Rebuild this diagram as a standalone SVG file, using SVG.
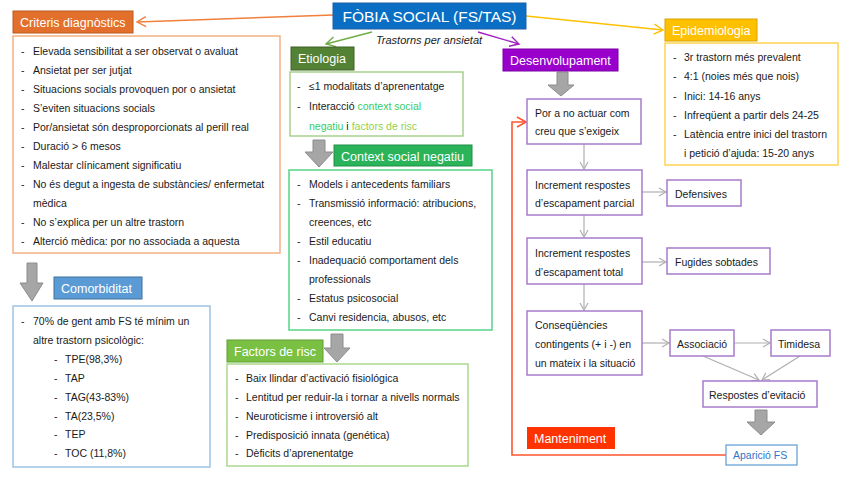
<svg xmlns="http://www.w3.org/2000/svg" width="848" height="477" viewBox="0 0 848 477">
<defs>
<style>
text{font-family:"Liberation Sans",Arial,sans-serif;fill:#1a1a1a}
.t{font-size:10.5px}
.h{font-size:12.5px;fill:#fff}
.box{fill:#fff;stroke-width:1.5}
.pb{fill:#fff;stroke:#A57CCB;stroke-width:1.5}
.big{fill:#A6A6A6;stroke:#8C8C8C;stroke-width:1}
.thin{fill:none;stroke:#AFAFAF;stroke-width:1.2;marker-end:url(#ga)}
</style>
<marker id="ga" markerWidth="10" markerHeight="10" refX="8" refY="5" orient="auto" markerUnits="userSpaceOnUse"><path d="M1,1 L8,5 L1,9" fill="none" stroke="#AFAFAF" stroke-width="1.2"/></marker>
<marker id="oa" markerWidth="12" markerHeight="12" refX="10" refY="6" orient="auto" markerUnits="userSpaceOnUse"><path d="M1,1 L10,6 L1,11" fill="none" stroke="#F0803C" stroke-width="1.4"/></marker>
<marker id="gr" markerWidth="12" markerHeight="12" refX="10" refY="6" orient="auto" markerUnits="userSpaceOnUse"><path d="M1,1 L10,6 L1,11" fill="none" stroke="#70AD47" stroke-width="1.4"/></marker>
<marker id="pu" markerWidth="12" markerHeight="12" refX="10" refY="6" orient="auto" markerUnits="userSpaceOnUse"><path d="M1,1 L10,6 L1,11" fill="none" stroke="#A020C0" stroke-width="1.4"/></marker>
<marker id="ye" markerWidth="12" markerHeight="12" refX="10" refY="6" orient="auto" markerUnits="userSpaceOnUse"><path d="M1,1 L10,6 L1,11" fill="none" stroke="#FFC000" stroke-width="1.4"/></marker>
<marker id="re" markerWidth="12" markerHeight="12" refX="10" refY="6" orient="auto" markerUnits="userSpaceOnUse"><path d="M1,1 L10,6 L1,11" fill="none" stroke="#FF5530" stroke-width="1.6"/></marker>
</defs>
<rect width="848" height="477" fill="#fff"/>

<g id="connectors">
<line x1="333" y1="15" x2="137" y2="22" stroke="#F0803C" stroke-width="1.4" marker-end="url(#oa)"/>
<line x1="372" y1="32" x2="326" y2="44" stroke="#70AD47" stroke-width="1.4" marker-end="url(#gr)"/>
<line x1="478" y1="32" x2="519" y2="44" stroke="#A020C0" stroke-width="1.4" marker-end="url(#pu)"/>
<line x1="526" y1="16" x2="663" y2="30" stroke="#FFC000" stroke-width="1.4" marker-end="url(#ye)"/>
<polyline points="726,455 512,455 512,122 526,122" fill="none" stroke="#FF5530" stroke-width="1.6" marker-end="url(#re)"/>
<line class="thin" x1="584" y1="144" x2="584" y2="169"/>
<line class="thin" x1="584" y1="215" x2="584" y2="237"/>
<line class="thin" x1="584" y1="284" x2="584" y2="310"/>
<line class="thin" x1="642" y1="192" x2="666" y2="192"/>
<line class="thin" x1="642" y1="262" x2="666" y2="262"/>
<line class="thin" x1="642" y1="343" x2="669" y2="343"/>
<line class="thin" x1="734" y1="343" x2="770" y2="343"/>
<line class="thin" x1="703" y1="356" x2="759" y2="380"/>
<line class="thin" x1="800" y1="356" x2="762" y2="380"/>
<polygon class="big" points="27,263 37,263 37,283 43,283 32,301 20,283 27,283"/>
<polygon class="big" points="313,140 325,140 325,152 333,152 319,167 305,152 313,152"/>
<polygon class="big" points="331,334 343,334 343,348 350,348 337,362 324,348 331,348"/>
<polygon class="big" points="557,72 568,72 568,85 574,85 561,96 548,85 557,85"/>
<polygon class="big" points="755,410 767,410 767,422 775,422 761,435 747,422 755,422"/>
</g>

<g id="title">
<rect x="333" y="3" width="193" height="26" fill="#0A6FC4" stroke="#1F5FA8"/>
<text x="429.5" y="22" text-anchor="middle" style="font-size:15.5px;fill:#fff">FÒBIA SOCIAL (FS/TAS)</text>
<text x="429" y="44" text-anchor="middle" style="font-size:11px;font-style:italic">Trastorns per ansietat</text>
</g>

<g id="criteris">
<rect x="13" y="11" width="120" height="22" fill="#E2702C" stroke="#B85A1F"/>
<text class="h" x="20" y="27">Criteris diagnòstics</text>
<rect class="box" x="13" y="36" width="267" height="217" stroke="#F4B183"/>
<g class="t">
<text x="21" y="54.5">-</text><text x="33" y="54.5">Elevada sensibilitat a ser observat o avaluat</text>
<text x="21" y="73.5">-</text><text x="33" y="73.5">Ansietat per ser jutjat</text>
<text x="21" y="92.5">-</text><text x="33" y="92.5">Situacions socials provoquen por o ansietat</text>
<text x="21" y="111.5">-</text><text x="33" y="111.5">S’eviten situacions socials</text>
<text x="21" y="130.5">-</text><text x="33" y="130.5">Por/ansietat són desproporcionats al perill real</text>
<text x="21" y="149.5">-</text><text x="33" y="149.5">Duració &gt; 6 mesos</text>
<text x="21" y="168.5">-</text><text x="33" y="168.5">Malestar clínicament significatiu</text>
<text x="21" y="187.5">-</text><text x="33" y="187.5">No és degut a ingesta de substàncies/ enfermetat</text>
<text x="33" y="206.5">mèdica</text>
<text x="21" y="225.5">-</text><text x="33" y="225.5">No s’explica per un altre trastorn</text>
<text x="21" y="244.5">-</text><text x="33" y="244.5">Alterció mèdica: por no associada a aquesta</text>
</g>
</g>

<g id="comorbiditat">
<rect x="54" y="277" width="88" height="22" fill="#5B9BD5" stroke="#41719C"/>
<text class="h" x="61" y="293">Comorbiditat</text>
<rect class="box" x="13" y="306" width="197" height="161" stroke="#9DC3E6"/>
<g class="t">
<text x="21" y="325">-</text><text x="33" y="325">70% de gent amb FS té mínim un</text>
<text x="33" y="344">altre trastorn psicològic:</text>
<text x="54" y="363">-</text><text x="65" y="363">TPE(98,3%)</text>
<text x="54" y="382">-</text><text x="65" y="382">TAP</text>
<text x="54" y="401">-</text><text x="65" y="401">TAG(43-83%)</text>
<text x="54" y="420">-</text><text x="65" y="420">TA(23,5%)</text>
<text x="54" y="438">-</text><text x="65" y="438">TEP</text>
<text x="54" y="457">-</text><text x="65" y="457">TOC (11,8%)</text>
</g>
</g>

<g id="etiologia">
<rect x="291" y="47" width="63" height="23" fill="#548235" stroke="#3F6128"/>
<text class="h" x="298" y="63">Etiologia</text>
<rect class="box" x="290" y="72" width="173" height="64" stroke="#A9D18E"/>
<g class="t">
<text x="297" y="90">-</text><text x="309" y="90">≤1 modalitats d’aprenentatge</text>
<text x="297" y="110">-</text><text x="309" y="110">Interacció <tspan style="fill:#33CC66">context social</tspan></text>
<text x="309" y="130"><tspan style="fill:#33CC66">negatiu</tspan> i <tspan style="fill:#92D050">factors de risc</tspan></text>
</g>
</g>

<g id="context">
<rect x="334" y="145" width="138" height="21" fill="#2BB35A" stroke="#1E8F45"/>
<text class="h" x="341" y="160.5">Context social negatiu</text>
<rect class="box" x="289" y="170" width="203" height="160" stroke="#55D486"/>
<g class="t">
<text x="297" y="188">-</text><text x="309" y="188">Models i antecedents familiars</text>
<text x="297" y="207">-</text><text x="309" y="207">Transmissió informació: atribucions,</text>
<text x="309" y="226">creences, etc</text>
<text x="297" y="245">-</text><text x="309" y="245">Estil educatiu</text>
<text x="297" y="264">-</text><text x="309" y="264">Inadequació comportament dels</text>
<text x="309" y="283">professionals</text>
<text x="297" y="302">-</text><text x="309" y="302">Estatus psicosocial</text>
<text x="297" y="321">-</text><text x="309" y="321">Canvi residencia, abusos, etc</text>
</g>
</g>

<g id="factors">
<rect x="227" y="340" width="96" height="22" fill="#7AC143" stroke="#5E9E33"/>
<text class="h" x="234" y="356">Factors de risc</text>
<rect class="box" x="227" y="364" width="241" height="102" stroke="#A9D98E"/>
<g class="t">
<text x="235" y="382">-</text><text x="246" y="382">Baix llindar d’activació fisiológica</text>
<text x="235" y="401">-</text><text x="246" y="401">Lentitud per reduir-la i tornar a nivells normals</text>
<text x="235" y="420">-</text><text x="246" y="420">Neuroticisme i introversió alt</text>
<text x="235" y="439">-</text><text x="246" y="439">Predisposició innata (genética)</text>
<text x="235" y="457">-</text><text x="246" y="457">Dèficits d’aprenentatge</text>
</g>
</g>

<g id="desenvolupament">
<rect x="503" y="49" width="115" height="22" fill="#9900CC" stroke="#7A00A3"/>
<text class="h" x="510" y="65">Desenvolupament</text>
</g>

<g id="por">
<rect class="pb" x="527" y="99" width="114" height="45"/>
<text class="t" x="535" y="117">Por a no actuar com</text>
<text class="t" x="535" y="135">creu que s’exigeix</text>
</g>
<g id="parcial">
<rect class="pb" x="527" y="170" width="115" height="45"/>
<text class="t" x="535" y="189">Increment respostes</text>
<text class="t" x="535" y="207">d’escapament parcial</text>
</g>
<g id="defensives">
<rect class="pb" x="667" y="180" width="74" height="26"/>
<text class="t" x="675" y="198">Defensives</text>
</g>
<g id="total">
<rect class="pb" x="527" y="238" width="115" height="46"/>
<text class="t" x="535" y="257">Increment respostes</text>
<text class="t" x="535" y="276">d’escapament total</text>
</g>
<g id="fugides">
<rect class="pb" x="667" y="248" width="103" height="26"/>
<text class="t" x="675" y="266">Fugides sobtades</text>
</g>
<g id="consequencies">
<rect class="pb" x="527" y="311" width="115" height="64"/>
<text class="t" x="535" y="329">Conseqüències</text>
<text class="t" x="535" y="348">contingents (+ i -) en</text>
<text class="t" x="535" y="367">un mateix i la situació</text>
</g>
<g id="associacio">
<rect class="pb" x="670" y="330" width="64" height="26"/>
<text class="t" x="677" y="348">Associació</text>
</g>
<g id="timidesa">
<rect class="pb" x="771" y="330" width="59" height="26"/>
<text class="t" x="778" y="348">Timidesa</text>
</g>
<g id="evitacio">
<rect class="pb" x="703" y="381" width="114" height="26"/>
<text class="t" x="709" y="399">Respostes d’evitació</text>
</g>
<g id="aparicio">
<rect x="726" y="445" width="71" height="20" fill="#fff" stroke="#5B9BD5" stroke-width="1.2"/>
<text class="t" x="733" y="459" style="fill:#2F75C9">Aparició FS</text>
</g>
<g id="manteniment">
<rect x="527" y="427" width="88" height="22" fill="#FF3300"/>
<text class="h" x="534" y="443">Manteniment</text>
</g>

<g id="epidemiologia">
<rect x="665" y="19" width="92" height="22" fill="#FFC000" stroke="#D9A300"/>
<text class="h" x="672" y="35">Epidemiologia</text>
<rect class="box" x="665" y="43" width="173" height="122" stroke="#FFD34F"/>
<g class="t">
<text x="673" y="61">-</text><text x="684" y="61">3r trastorn més prevalent</text>
<text x="673" y="80">-</text><text x="684" y="80">4:1 (noies més que nois)</text>
<text x="673" y="100">-</text><text x="684" y="100">Inici: 14-16 anys</text>
<text x="673" y="119">-</text><text x="684" y="119">Infreqüent a partir dels 24-25</text>
<text x="673" y="138">-</text><text x="684" y="138">Latència entre inici del trastorn</text>
<text x="684" y="157">i petició d’ajuda: 15-20 anys</text>
</g>
</g>
</svg>
